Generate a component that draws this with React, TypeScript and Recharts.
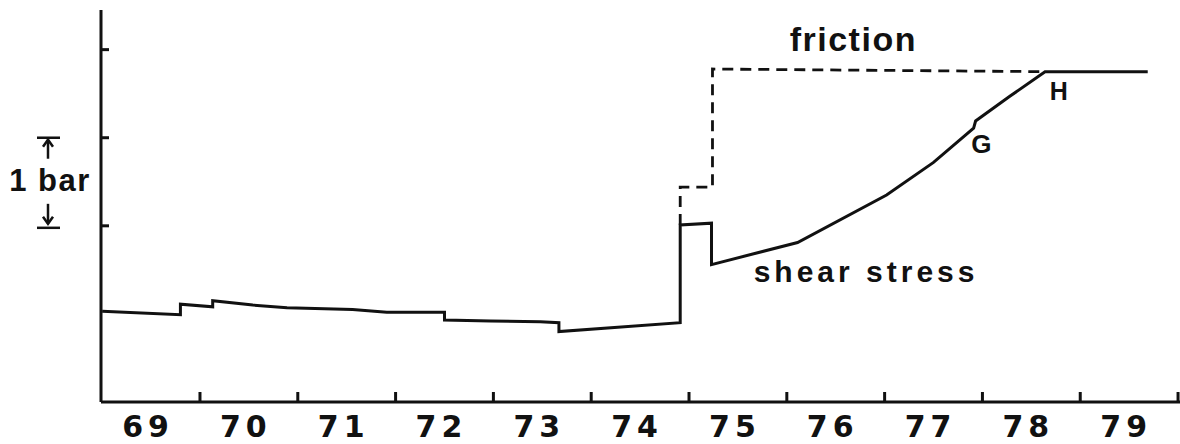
import React from 'react';
import { LineChart, Line, XAxis, YAxis, ReferenceDot } from 'recharts';

// day labels sit in the middle of each interval, tick marks on the boundaries
const dayLabels = [69, 70, 71, 72, 73, 74, 75, 76, 77, 78, 79];
const dayBoundaries = [69.5, 70.5, 71.5, 72.5, 73.5, 74.5, 75.5, 76.5, 77.5, 78.5, 79.5];

// shear stress (bar)
const shearX = [68.5, 69.3, 69.3, 69.63, 69.63, 70.04, 70.39, 71.06, 71.41, 72.0, 72.0, 72.47, 72.98, 73.17, 73.17, 74.41, 74.41, 74.73, 74.73, 75.61, 76.52, 77.0, 77.41, 77.43, 77.78, 78.14, 79.19];
const shearY = [1.03, 0.99, 1.11, 1.08, 1.15, 1.1, 1.07, 1.05, 1.02, 1.02, 0.93, 0.92, 0.91, 0.9, 0.8, 0.9, 2.01, 2.03, 1.56, 1.81, 2.35, 2.72, 3.11, 3.19, 3.47, 3.75, 3.75];

// friction (dashed)
const frictionX = [74.41, 74.41, 74.74, 74.74, 78.14];
const frictionY = [2.01, 2.44, 2.44, 3.78, 3.75];

const yTicks = [2, 2.5, 3, 4];

// text annotations in data coordinates
const notes = [
  { text: 'friction', x: 76.18, y: 3.98, size: 34, bold: true, spacing: 1.5 },
  { text: 'shear stress', x: 76.31, y: 1.36, size: 30, bold: true, spacing: 4 },
  { text: 'G', x: 77.49, y: 2.83, size: 26, bold: true, spacing: 0 },
  { text: 'H', x: 78.28, y: 3.43, size: 25, bold: true, spacing: 0 },
];

const ink = '#111';
const font = '"Liberation Sans", Arial, sans-serif';

const shearData = shearX.map((x, i) => ({ x, y: shearY[i] }));
const frictionData = frictionX.map((x, i) => ({ x, y: frictionY[i] }));
const xTicks = [...dayLabels, ...dayBoundaries].sort((a, b) => a - b);

const XTick = ({ x, y, payload }: any) => {
  const v = payload.value;
  if (Number.isInteger(v)) {
    return (
      <text x={x - 3} y={y + 35} textAnchor="middle" fill={ink} fontFamily='"DejaVu Sans", sans-serif' fontWeight="bold" fontSize={30} letterSpacing={5}>
        {v}
      </text>
    );
  }
  return <line x1={x} x2={x} y1={y} y2={y - 10} stroke={ink} strokeWidth={3} />;
};

const YTick = ({ x, y, payload }: any) => {
  const v = payload.value;
  if (v === 2.5) {
    return (
      <text x={x - 51} y={y + 9} textAnchor="middle" fill={ink} fontFamily={font} fontWeight="bold" fontSize={31} letterSpacing={1.5}>
        1 bar
      </text>
    );
  }
  const ax = x - 53;
  return (
    <g stroke={ink} strokeWidth={2.5} fill="none">
      <line x1={x} x2={x + 8} y1={y} y2={y} strokeWidth={3} />
      {v === 3 && (
        <>
          <line x1={x - 64} x2={x - 41} y1={y} y2={y} />
          <line x1={ax} x2={ax} y1={y + 2} y2={y + 21} />
          <polyline points={`${ax - 5},${y + 9} ${ax},${y + 2} ${ax + 5},${y + 9}`} />
        </>
      )}
      {v === 2 && (
        <>
          <line x1={x - 64} x2={x - 41} y1={y + 2} y2={y + 2} />
          <line x1={ax} x2={ax} y1={y - 22} y2={y - 2} />
          <polyline points={`${ax - 5},${y - 9} ${ax},${y - 2} ${ax + 5},${y - 9}`} />
        </>
      )}
    </g>
  );
};

const NoteShape = (note: any) => (props: any) => (
  <text
    x={props.cx}
    y={props.cy}
    textAnchor="middle"
    fill={ink}
    fontFamily={font}
    fontWeight={note.bold ? 'bold' : 'normal'}
    fontSize={note.size}
    letterSpacing={note.spacing}
  >
    {note.text}
  </text>
);

export default function App() {
  return (
    <div style={{ position: 'absolute', left: 0, top: 0, width: 1180, height: 444, background: '#fff' }}>
      <LineChart width={1180} height={444} margin={{ top: 10, right: 0, bottom: 0, left: 41 }}>
        <XAxis
          type="number"
          dataKey="x"
          domain={[68.488, 79.52]}
          ticks={xTicks}
          interval={0}
          height={42}
          tickSize={0}
          tickMargin={0}
          tickLine={false}
          axisLine={{ stroke: ink, strokeWidth: 3 }}
          tick={<XTick />}
          allowDataOverflow
        />
        <YAxis
          type="number"
          dataKey="y"
          domain={[0, 4.45]}
          ticks={yTicks}
          interval={0}
          width={60}
          tickSize={0}
          tickMargin={0}
          tickLine={false}
          axisLine={{ stroke: ink, strokeWidth: 3 }}
          tick={<YTick />}
          allowDataOverflow
        />
        <Line
          data={frictionData}
          dataKey="y"
          type="linear"
          stroke={ink}
          strokeWidth={2.8}
          strokeDasharray="11 7"
          dot={false}
          isAnimationActive={false}
        />
        <Line
          data={shearData}
          dataKey="y"
          type="linear"
          stroke={ink}
          strokeWidth={3}
          strokeLinejoin="miter"
          dot={false}
          isAnimationActive={false}
        />
        {notes.map((n) => (
          <ReferenceDot key={n.text} x={n.x} y={n.y} r={0} shape={NoteShape(n)} />
        ))}
      </LineChart>
    </div>
  );
}
